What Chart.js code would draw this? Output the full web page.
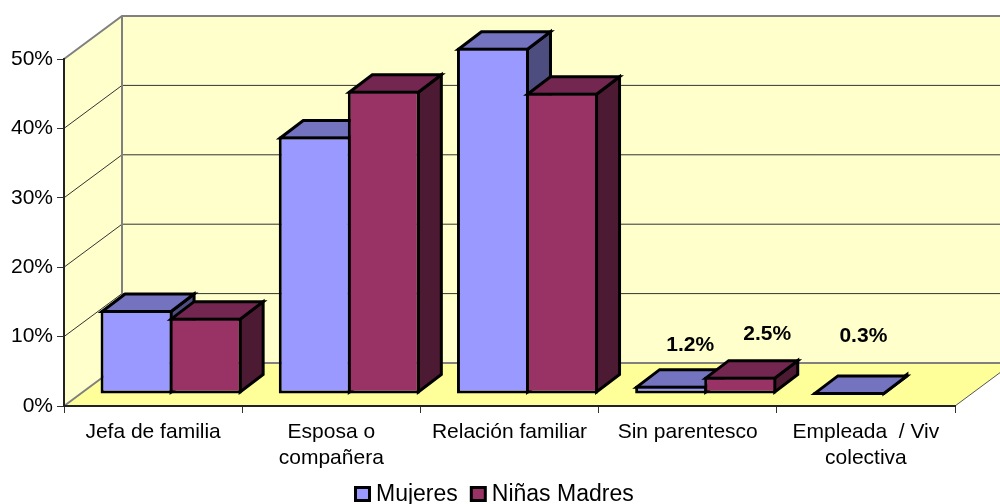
<!DOCTYPE html>
<html>
<head>
<meta charset="utf-8">
<style>
  html, body { margin: 0; padding: 0; background: #fff; }
  #wrap { width: 1000px; height: 504px; }
</style>
<script src="https://cdn.jsdelivr.net/npm/chart.js@4"></script>
</head>
<body>
<div id="wrap"><canvas id="myChart" width="1000" height="504"></canvas></div>
<script>
var categories = ['Jefa de familia', ['Esposa o', 'compañera'], 'Relación familiar', 'Sin parentesco', ['Empleada  / Viv', 'colectiva']];
var mujeres = [12.1, 37.1, 49.9, 1.2, 0.3];
var ninasMadres = [11.0, 43.7, 43.4, 2.5, null];
var yTicks = [0, 10, 20, 30, 40, 50];

// which values get a printed label, and where Excel left it relative to the bar top
var printedLabels = [
  {dataset: 0, index: 3, text: '1.2%', dx: 19, dy: -40},
  {dataset: 1, index: 3, text: '2.5%', dx: 27, dy: -42},
  {dataset: 0, index: 4, text: '0.3%', dx: 14, dy: -56}
];

var FONT = '"Liberation Sans", Arial, sans-serif';
var shift = {x: 18, y: -12};   // bars stand in the middle of the floor
var depth = {x: 23, y: 17.5};  // bar depth
var wall = {x: 58, y: 43};     // chart depth
var edge = 3;

var faces = [
  {top: '#7373BF', side: '#4D4D80'},
  {top: '#732650', side: '#4D1A33'}
];

function poly(ctx, pts, fill, stroke, lw) {
  ctx.beginPath();
  pts.forEach(function (p, i) { i ? ctx.lineTo(p[0], p[1]) : ctx.moveTo(p[0], p[1]); });
  ctx.closePath();
  if (fill) { ctx.fillStyle = fill; ctx.fill(); }
  if (stroke) { ctx.strokeStyle = stroke; ctx.lineWidth = lw; ctx.stroke(); }
}

var box3d = {
  id: 'box3d',
  // walls and floor
  beforeDraw: function (chart) {
    var ctx = chart.ctx, a = chart.chartArea, y = chart.scales.y;
    var bx = a.left + wall.x, fy = a.bottom - wall.y, ty = a.top - wall.y;
    ctx.save();
    poly(ctx, [[a.left, a.top], [bx, ty], [bx, fy], [a.left, a.bottom]], '#FFFFCC');
    ctx.fillStyle = '#FFFFCC';
    ctx.fillRect(bx, ty, a.right + wall.x - bx, fy - ty);
    poly(ctx, [[a.left, a.bottom], [a.right, a.bottom], [a.right + wall.x, fy], [bx, fy]], '#FFFF99');

    // grid lines run over the side wall and then along the back wall
    ctx.strokeStyle = '#333333';
    ctx.lineWidth = 1;
    y.ticks.forEach(function (t) {
      if (t.value === 0 || t.value === 50) return;
      var py = y.getPixelForValue(t.value);
      ctx.beginPath();
      ctx.moveTo(a.left, py);
      ctx.lineTo(bx, py - wall.y);
      ctx.lineTo(a.right + wall.x, py - wall.y);
      ctx.stroke();
    });

    ctx.strokeStyle = '#808080';
    ctx.lineWidth = 2;
    ctx.beginPath();
    ctx.moveTo(a.left, a.top);
    ctx.lineTo(bx, ty);
    ctx.lineTo(a.right + wall.x, ty);
    ctx.moveTo(bx, ty);
    ctx.lineTo(bx, fy);
    ctx.moveTo(a.left, a.bottom);
    ctx.lineTo(bx, fy);
    ctx.lineTo(a.right + wall.x, fy);
    ctx.stroke();
    ctx.lineWidth = 1;
    ctx.strokeStyle = '#555555';
    ctx.beginPath();
    ctx.moveTo(a.right, a.bottom);
    ctx.lineTo(a.right + wall.x, fy);
    ctx.stroke();
    ctx.restore();
  },
  // first series goes behind the second, so the loop is ours and not the default one
  beforeDatasetsDraw: function (chart) {
    var ctx = chart.ctx;
    [0, 1].forEach(function (d) {
      var meta = chart.getDatasetMeta(d);
      ctx.save();
      ctx.translate(shift.x, shift.y);
      ctx.lineJoin = 'miter';
      meta.data.forEach(function (el, i) {
        if (chart.data.datasets[d].data[i] === null) return;
        var l = el.x - el.width / 2 + edge / 2, r = el.x + el.width / 2 - edge / 2;
        var t = el.y + edge / 2, b = el.base - edge / 2;
        poly(ctx, [[r, t], [r + depth.x, t - depth.y], [r + depth.x, b - depth.y], [r, b]], faces[d].side, '#000', edge);
        poly(ctx, [[l, t], [l + depth.x, t - depth.y], [r + depth.x, t - depth.y], [r, t]], faces[d].top, '#000', edge);
      });
      meta.controller.draw();
      ctx.restore();
    });
    return false;
  },
  afterDraw: function (chart) {
    var ctx = chart.ctx;
    ctx.save();
    // printed values
    ctx.fillStyle = '#000';
    ctx.font = 'bold 21px ' + FONT;
    ctx.textAlign = 'center';
    ctx.textBaseline = 'middle';
    printedLabels.forEach(function (p) {
      var el = chart.getDatasetMeta(p.dataset).data[p.index];
      ctx.fillText(p.text, el.x + shift.x + p.dx, el.y + shift.y + p.dy);
    });
    // legend
    ctx.font = '23px ' + FONT;
    ctx.textAlign = 'left';
    ctx.textBaseline = 'alphabetic';
    var x = 354;
    chart.data.datasets.forEach(function (ds) {
      ctx.fillStyle = '#000';
      ctx.fillRect(x, 486, 17, 16);
      ctx.fillStyle = ds.backgroundColor;
      ctx.fillRect(x + 3, 489, 11, 10);
      ctx.fillStyle = '#000';
      ctx.fillText(ds.label, x + 22, 501);
      x += 22 + ctx.measureText(ds.label).width + 12;
    });
    ctx.restore();
  }
};

var ctx = document.getElementById('myChart').getContext('2d');
var myChart = new Chart(ctx, {
  type: 'bar',
  plugins: [box3d],
  data: {
    labels: categories,
    datasets: [{
      label: 'Mujeres',
      data: mujeres,
      backgroundColor: '#9999FF',
      borderColor: '#000',
      borderWidth: edge,
      borderSkipped: false,
      categoryPercentage: 0.775,
      barPercentage: 1.043
    }, {
      label: 'Niñas Madres',
      data: ninasMadres,
      backgroundColor: '#993366',
      borderColor: '#000',
      borderWidth: edge,
      borderSkipped: false,
      categoryPercentage: 0.775,
      barPercentage: 1.043
    }]
  },
  options: {
    responsive: false,
    animation: false,
    events: [],
    layout: {padding: {top: 59, right: 45, bottom: 18, left: 0}},
    plugins: {legend: {display: false}, tooltip: {enabled: false}},
    scales: {
      x: {
        afterFit: function (s) { s.height = 80; },
        grid: {drawOnChartArea: false, tickLength: 7, color: '#333'},
        border: {color: '#222', width: 2},
        ticks: {
          color: '#000',
          padding: 6,
          maxRotation: 0,
          autoSkip: false,
          font: {family: FONT, size: 21, lineHeight: 1.24}
        }
      },
      y: {
        min: 0,
        max: 50,
        afterFit: function (s) { s.width = 64; },
        afterBuildTicks: function (s) { s.ticks = yTicks.map(function (v) { return {value: v}; }); },
        grid: {drawOnChartArea: false, tickLength: 7, color: '#333'},
        border: {color: '#222', width: 2},
        ticks: {
          color: '#000',
          padding: 4,
          font: {family: FONT, size: 21},
          callback: function (v) { return v + '%'; }
        }
      }
    }
  }
});
</script>
</body>
</html>
